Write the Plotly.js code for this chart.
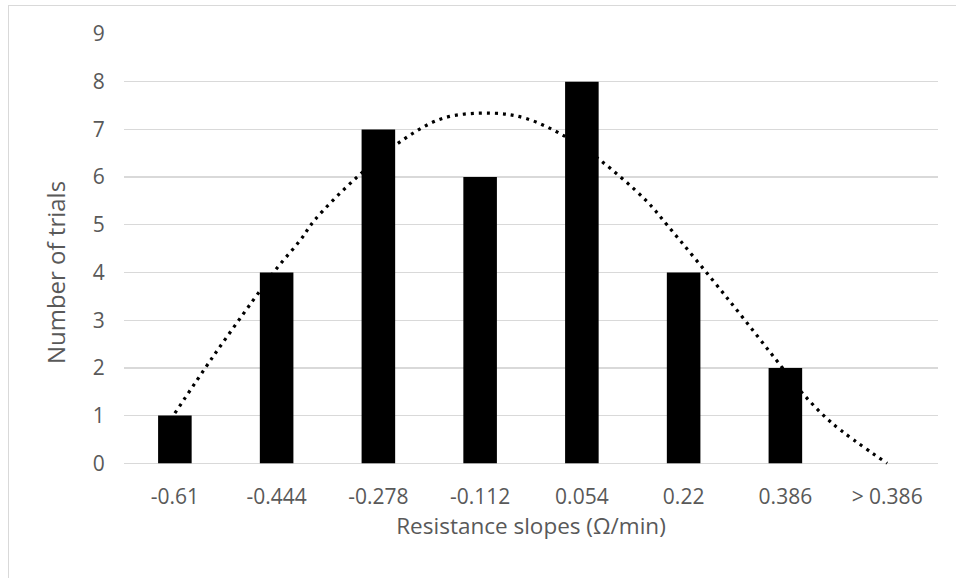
<!DOCTYPE html>
<html>
<head>
<meta charset="utf-8">
<script src="https://cdn.plot.ly/plotly-3.0.1.min.js"></script>
<style>
  html, body { margin: 0; padding: 0; background: #ffffff; overflow: hidden; }
  #frame { position: absolute; left: 8px; top: 5px; width: 960px; height: 580px; border: 1px solid #d9d9d9; }
  #chart { width: 946px; height: 580px; }
</style>
</head>
<body>
<div id="frame"><div id="chart"></div></div>
<script>
// Histogram categories (bin upper limits) and counts
const categories = ["-0.61", "-0.444", "-0.278", "-0.112", "0.054", "0.22", "0.386", "> 0.386"];
const counts = [1, 4, 7, 6, 8, 4, 2, 0];

// Dotted trend curve (x in category-position units, y in trials)
const trendX = [0, 0.37, 0.77, 1.01, 1.23, 1.37, 1.79, 2.18, 2.63, 3.12, 3.45, 3.83, 4.17, 4.63, 4.84, 5.43, 5.96, 6.16, 6.46, 7.0];
const trendY = [1.05, 2.22, 3.42, 4.11, 4.67, 5.09, 6.0, 6.69, 7.23, 7.34, 7.23, 6.86, 6.37, 5.51, 4.99, 3.46, 2.03, 1.49, 0.84, 0.0];

const yTicks = [-1, 0, 1, 2, 3, 4, 5, 6, 7, 8, 9];

const positions = categories.map((c, i) => i);
const fontFam = "Open Sans, Liberation Sans, sans-serif";
const grey = "#595959";

const bars = {
  type: "bar",
  x: positions,
  y: counts,
  width: 0.33,
  marker: { color: "#000000", line: { width: 0 } },
  hoverinfo: "x+y",
  showlegend: false
};

const trend = {
  type: "scatter",
  mode: "lines",
  x: trendX,
  y: trendY,
  line: { color: "#000000", width: 3.2, dash: "3px,5px", shape: "spline", smoothing: 1 },
  hoverinfo: "skip",
  showlegend: false
};

const layout = {
  width: 946,
  height: 580,
  margin: { l: 115, r: 17, t: 28, b: 75 },
  paper_bgcolor: "#ffffff",
  plot_bgcolor: "#ffffff",
  font: { family: fontFam, color: grey, size: 21 },
  bargap: 0.67,
  xaxis: {
    range: [-0.5, 7.5],
    tickvals: positions,
    ticktext: categories,
    ticklabelposition: "inside",
    showgrid: false,
    zeroline: false,
    showline: false,
    ticks: "",
    fixedrange: true,
    tickfont: { family: fontFam, size: 21, color: grey },
    title: { text: "Resistance slopes (Ω/min)", font: { family: fontFam, size: 22.5, color: grey }, standoff: 0 }
  },
  yaxis: {
    range: [-1, 9],
    tickvals: yTicks,
    showgrid: true,
    gridcolor: "#d9d9d9",
    gridwidth: 1.3,
    zeroline: true,
    zerolinecolor: "#d9d9d9",
    zerolinewidth: 1.3,
    showline: false,
    ticks: "outside",
    ticklen: 14,
    tickcolor: "rgba(0,0,0,0)",
    fixedrange: true,
    tickfont: { family: fontFam, size: 21, color: grey },
    title: { text: "Number of trials", font: { family: fontFam, size: 24, color: grey }, standoff: 8 }
  }
};

Plotly.newPlot("chart", [bars, trend], layout, { displayModeBar: false, staticPlot: true });
</script>
</body>
</html>
